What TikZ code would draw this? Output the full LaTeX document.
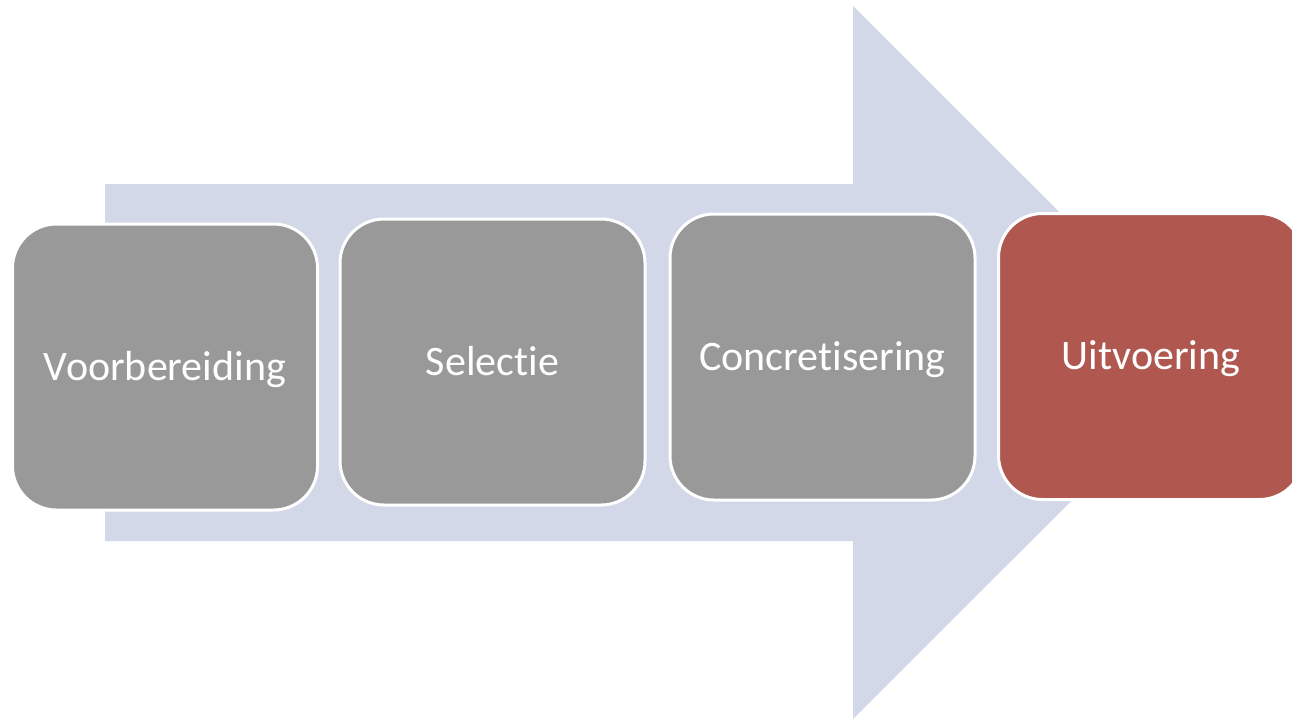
\documentclass[tikz,border=0pt]{standalone}
\usepackage{fontspec}
\setmainfont[Ligatures=NoCommon]{Carlito}
\definecolor{arrowfill}{RGB}{211,216,232}
\definecolor{stepgray}{RGB}{153,153,153}
\definecolor{stepred}{RGB}{176,87,80}
\begin{document}
\begin{tikzpicture}[x=1pt,y=-1pt,
  stepbox/.style={draw=white, line width=3pt, rounded corners=44pt,
    minimum width=305pt, minimum height=286pt, inner sep=0pt,
    text=white, font=\fontsize{42}{50}\selectfont,
    text height=26pt, text depth=0pt, align=center},
  graystep/.style={stepbox, fill=stepgray},
  redstep/.style={stepbox, fill=stepred}]
  \useasboundingbox (0,0) rectangle (1292,721);
  \clip (0,0) rectangle (1292,721);
  % big background arrow
  \fill[arrowfill] (105,184) -- (853,184) -- (853,6) -- (1210,362.5)
    -- (853,719) -- (853,541) -- (105,541) -- cycle;
  % process steps
  \node[graystep] (prep) at (165,367)   {Voorbereiding};
  \node[graystep] (sel)  at (492.5,362) {Selectie};
  \node[graystep] (conc) at (822.5,357) {Concretisering};
  \node[redstep]  (exec) at (1151,356.5) {Uitvoering};
\end{tikzpicture}
\end{document}
